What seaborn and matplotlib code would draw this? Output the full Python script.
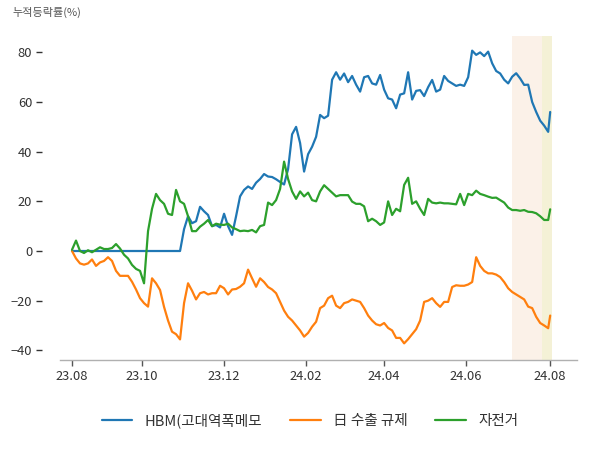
import numpy as np
import pandas as pd
import matplotlib
matplotlib.use("Agg")
import matplotlib.pyplot as plt
import seaborn as sns

# ---------------- data (cumulative return, %) ----------------
series_names = ["HBM(고대역폭메모", "日 수출 규제", "자전거"]
tick_labels = ["23.08", "23.10", "23.12", "24.02", "24.04", "24.06", "24.08"]
tick_days = [0, 35, 76, 117, 156, 197, 239]          # trading-day index of each tick
days = list(range(0, 240, 2)) + [239]                 # trading-day index of each sample

hbm = [
    0, 0, 0, 0, 0, 0, 0, 0, 0, 0,
    0, 0, 0, 0, 0, 0, 0, 0, 0, 0,
    0, 0, 0, 0, 0, 0, 0, 0, 8.8, 14,
    11.2, 12, 17.8, 16, 14.5, 10, 10.5, 9.5, 15, 10,
    6.5, 14, 22, 24.6, 26, 25, 27.5, 29, 31, 30,
    29.8, 28.9, 27.8, 26.8, 33, 47, 50, 43.5, 32, 39,
    42, 46, 54.8, 53.5, 54.5, 69, 72, 69, 71.5, 68,
    70.5, 67, 64.2, 70, 70.5, 67.5, 67, 70.9, 65, 61.5,
    61, 57.5, 63, 63.5, 72, 61, 64.5, 64.8, 62.4, 66,
    68.9, 64.2, 65, 70.5, 68.5, 67.5, 66.5, 67, 66.5, 70,
    80.7, 79, 80, 78.5, 80.3, 75.6, 72.5, 71.5, 69, 67.5,
    70.2, 71.6, 69.5, 66.9, 67, 60, 56, 52.5, 50.5, 48,
    56,
]
japan_export = [
    0, -3, -5, -5.5, -5, -3.4, -6, -4.6, -4, -2.5,
    -4, -8, -10, -10, -10, -12.4, -15.5, -19, -21, -22.4,
    -11, -13, -15.7, -22.5, -28, -32.5, -33.5, -35.6, -21, -13,
    -16, -19.5, -17, -16.5, -17.5, -17, -17, -14, -15, -17.5,
    -15.5, -15.3, -14.4, -13, -7.5, -11, -14.4, -11, -12.5, -14.5,
    -15.5, -17, -20.5, -24, -26.5, -28, -30, -32, -34.5, -33,
    -30.5, -28.5, -23, -22, -19, -18, -22, -23, -21, -20.5,
    -19.5, -20, -20.5, -23, -26, -28, -29.5, -30, -29, -31,
    -32, -35, -35, -37.2, -35.5, -33.5, -31.5, -28, -20.5, -20,
    -19, -21, -22.5, -20.5, -20.5, -14.5, -13.8, -14, -14, -13.5,
    -12.5, -2.5, -6, -8, -9, -9, -9.5, -10.5, -12.5, -15,
    -16.5, -17.5, -18.5, -19.5, -22.4, -23, -26.5, -29, -30, -31.1,
    -26,
]
bicycle = [
    0.5, 4.2, 0, -0.8, 0.3, -0.5, 0.5, 1.5, 0.8, 0.8,
    1.2, 2.8, 1, -1.5, -3, -5.6, -7.2, -8, -13, 8,
    17, 23, 20.5, 19, 15, 14.5, 24.6, 20, 19, 14,
    8, 8, 9.8, 11, 12.5, 10, 11, 10.6, 10.5, 11,
    9.5, 8.8, 8, 8.2, 8, 8.5, 7.5, 10, 10.5, 19.5,
    18.5, 20.5, 25, 36, 29, 24, 21, 24, 22, 23.5,
    20.5, 20, 24, 26.5, 25, 23.5, 22, 22.5, 22.5, 22.5,
    19.9, 19, 19, 18, 12, 13, 12, 10.5, 11.5, 20,
    14.5, 17, 16, 26.6, 29.5, 19, 20, 17, 14.5, 21,
    19.5, 19.2, 19.5, 19.2, 19.2, 19, 18.8, 23, 18.5, 23,
    22.5, 24.3, 23, 22.5, 21.9, 21.4, 21.5, 20.5, 19.5, 17.5,
    16.5, 16.5, 16.2, 16.5, 15.8, 15.7, 15.2, 14, 12.5, 12.5,
    16.8,
]
month_span = (220, 240)   # last month (shaded)
week_span = (235, 240)    # last week (shaded)

# ---------------- build frame ----------------
df = pd.concat([
    pd.DataFrame({"day": days, "value": vals, "series": name})
    for name, vals in zip(series_names, [hbm, japan_export, bicycle])
], ignore_index=True)

sns.set_theme(style="white")
plt.rcParams["font.family"] = ["Noto Sans CJK KR", "DejaVu Sans"]

fig = plt.figure(figsize=(6, 4.5), dpi=100)
ax = fig.add_axes([0.1, 0.2, 0.862, 0.72])

palette = ["#1f77b4", "#ff7f0e", "#2ca02c"]
ax.axvspan(*month_span, color="#fbf1e8", lw=0, zorder=0)
ax.axvspan(*week_span, color="#f4f1d6", lw=0, zorder=0)

sns.lineplot(data=df, x="day", y="value", hue="series", palette=palette,
             hue_order=series_names, linewidth=1.6, ax=ax, legend=False)

ax.set_xlim(-6, 252.5)
ax.set_ylim(-43.9, 86.6)
ax.set_xticks(tick_days)
ax.set_xticklabels(tick_labels)
ax.set_yticks([-40, -20, 0, 20, 40, 60, 80])
ax.set_xlabel("")
ax.set_ylabel("")

for s in ["top", "right"]:
    ax.spines[s].set_visible(False)
ax.spines["left"].set_position(("outward", 13))
ax.spines["left"].set_visible(False)
ax.spines["bottom"].set_color("#b0b0b0")
ax.spines["bottom"].set_linewidth(1.0)

ax.tick_params(axis="x", bottom=True, length=4, width=1, color="#555555",
               labelsize=9.3, labelcolor="#333333", pad=3)
ax.tick_params(axis="y", left=True, length=4, width=1, color="#333333",
               labelsize=9.3, labelcolor="#333333", pad=3)

fig.text(0.02, 0.972, "누적등락률(%)", fontsize=8, color="#555555",
         ha="left", va="center")

handles = [plt.Line2D([], [], color=c, lw=1.6) for c in palette]
fig.legend(handles, series_names, loc="center", bbox_to_anchor=(0.517, 0.066),
           ncol=3, frameon=False, fontsize=10.5, handlelength=2.1,
           handletextpad=0.85, columnspacing=1.9, labelcolor="#333333")

fig.savefig("out.png", dpi=100)
